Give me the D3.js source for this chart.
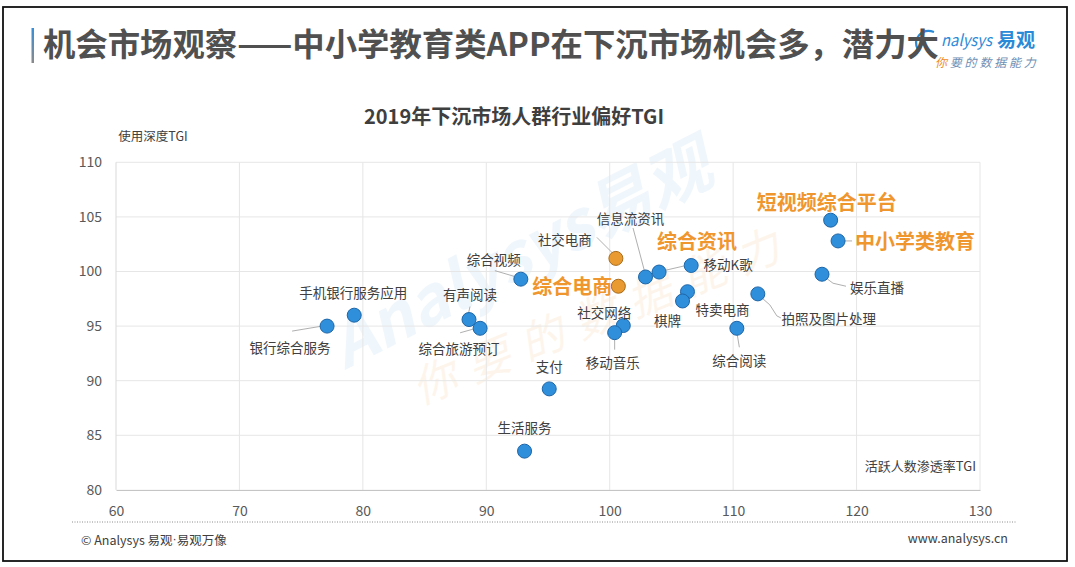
<!DOCTYPE html>
<html><head><meta charset="utf-8">
<script src="https://cdn.jsdelivr.net/npm/d3@7/dist/d3.min.js"></script>
<style>
body{margin:0;background:#fff}
svg{display:block}
text{font-family:"Noto Sans CJK SC","Microsoft YaHei",sans-serif}
</style>
</head><body>
<svg id="c" width="1075" height="567"></svg>
<script>
// ---------- data ----------
const names = ["银行综合服务","手机银行服务应用","有声阅读","综合旅游预订","综合视频","社交电商","综合电商","信息流资讯","综合资讯","移动K歌","特卖电商","棋牌","社交网络","移动音乐","拍照及图片处理","综合阅读","娱乐直播","短视频综合平台","中小学类教育","支付","生活服务"];
const penetrationTGI = [77.1,79.3,88.6,89.5,92.8,100.5,100.7,102.9,104.0,106.6,106.3,105.9,101.1,100.4,112.0,110.3,117.2,117.9,118.5,95.1,93.1];
const depthTGI      = [95.0,96.0,95.6,94.8,99.3,101.2,98.65,99.5,99.95,100.55,98.15,97.3,95.05,94.4,97.95,94.8,99.75,104.7,102.8,89.25,83.55];
const orangePoints  = ["社交电商","综合电商"];
const orangeLabels  = ["综合电商","综合资讯","短视频综合平台","中小学类教育"];
const xTicks = [60,70,80,90,100,110,120,130];
const yTicks = [80,85,90,95,100,105,110];

const mainTitle  = "机会市场观察——中小学教育类APP在下沉市场机会多，潜力大";
const chartTitle = "2019年下沉市场人群行业偏好TGI";
const yAxisTitle = "使用深度TGI";
const xAxisTitle = "活跃人数渗透率TGI";
const footLeft   = "© Analysys 易观·易观万像";
const footRight  = "www.analysys.cn";

// ---------- label layout (pixel offsets relative to each point) ----------
const labelLayout = {
  "银行综合服务":   {dx:-37, dy:21, leader:[[-5,0],[-35,5]]},
  "手机银行服务应用": {dx:-1, dy:-23},
  "有声阅读":       {dx:1, dy:-26, leader:[[1,-13],[-1,-4]]},
  "综合旅游预订":   {dx:-21, dy:20, leader:[[-20,4.5],[-4,0]]},
  "综合视频":       {dx:-27, dy:-20, leader:[[-26,-8.5],[-4,-2]]},
  "社交电商":       {dx:-51, dy:-19, leader:[[-19,-21],[-3,-5]]},
  "综合电商":       {dx:-46, dy:-1},
  "信息流资讯":     {dx:-15, dy:-59, leader:[[-12.5,-49],[-0.5,-4]]},
  "综合资讯":       {dx:38, dy:-32, leader:[[3,-1],[29,-7]]},
  "移动K歌":        {dx:37, dy:-1},
  "特卖电商":       {dx:35, dy:17},
  "棋牌":           {dx:-15, dy:19},
  "社交网络":       {dx:-19, dy:-14},
  "移动音乐":       {dx:-2, dy:29, leader:[[0,4],[0,17]]},
  "拍照及图片处理": {dx:71, dy:24, leader:[[4,4],[12,11],[19,22],[23,24]]},
  "综合阅读":       {dx:2.5, dy:32, leader:[[0,4],[2.5,19]]},
  "娱乐直播":       {dx:55, dy:13, leader:[[3,3],[11,9],[24,12]]},
  "短视频综合平台": {dx:-4, dy:-19},
  "中小学类教育":   {dx:77, dy:0, leader:[[4,0],[14,0]]},
  "支付":           {dx:0, dy:-23},
  "生活服务":       {dx:0, dy:-24}
};

const svg = d3.select("#c");
const W = 1075, H = 567;
const plot = {left:116, right:980, top:162.3, bottom:489.9};

const x = d3.scaleLinear().domain([60,130]).range([plot.left, plot.right]);
const y = d3.scaleLinear().domain([80,110]).range([plot.bottom, plot.top]);

// background
svg.append("rect").attr("width",W).attr("height",H).attr("fill","#fff");

// watermark
const wm = svg.append("g");
wm.append("text").attr("transform","translate(345,370) rotate(-27)")
  .attr("font-size",66).attr("font-style","italic").attr("fill","#2f8fdc").attr("font-weight","bold")
  .attr("opacity",0.07).text("Analysys易观");
wm.append("text").attr("transform","translate(420,405) rotate(-22)")
  .attr("font-size",44).attr("font-style","italic").attr("fill","#f0962e")
  .attr("opacity",0.09).attr("letter-spacing",14).text("你要的数据能力");

// outer border
svg.append("rect").attr("x",3).attr("y",7).attr("width",1064).attr("height",554)
  .attr("fill","none").attr("stroke","#111").attr("stroke-width",1.8);

// logo (swoosh "A" mostly hidden behind the title's last glyph, as in the reference)
const logo = svg.append("g");
logo.append("path").attr("d","M918,50 C912,38 922,28 934,32")
  .attr("fill","none").attr("stroke","#2b8ad8").attr("stroke-width",2.2);
logo.append("text").attr("x",941).attr("y",46).attr("font-size",16).attr("fill","#2b8ad8")
  .attr("font-family","'Open Sans',sans-serif").attr("font-style","italic")
  .attr("textLength",51).attr("lengthAdjust","spacingAndGlyphs")
  .text("nalysys");
logo.append("text").attr("x",997).attr("y",46.5).attr("font-size",19).attr("font-weight","bold").attr("fill","#2b8ad8").text("易观");
const slog = logo.append("text").attr("x",935).attr("y",66.5).attr("font-size",12).attr("font-style","italic").attr("letter-spacing",2.8);
slog.append("tspan").attr("fill","#f08a24").text("你");
slog.append("tspan").attr("fill","#6e8fb5").text("要的数据能力");

// title bar
const grad = svg.append("defs").append("linearGradient").attr("id","bar").attr("x1",0).attr("x2",0).attr("y1",0).attr("y2",1);
grad.append("stop").attr("offset","0%").attr("stop-color","#3a8fd8");
grad.append("stop").attr("offset","100%").attr("stop-color","#8a8a8a");
svg.append("rect").attr("x",31.5).attr("y",28).attr("width",2.5).attr("height",35).attr("fill","url(#bar)");

// main title
svg.append("text").attr("x",43).attr("y",56).attr("font-size",32).attr("font-weight","bold")
  .attr("fill","#505050").attr("textLength",896).attr("lengthAdjust","spacingAndGlyphs").text(mainTitle);

// chart title
svg.append("text").attr("x",514).attr("y",124).attr("text-anchor","middle").attr("font-size",20)
  .attr("font-weight","bold").attr("fill","#3f3f3f").text(chartTitle);

// axis titles
svg.append("text").attr("x",153).attr("y",135).attr("text-anchor","middle").attr("dominant-baseline","central")
  .attr("font-size",12.5).attr("fill","#404040").text(yAxisTitle);
svg.append("text").attr("x",976).attr("y",465).attr("text-anchor","end").attr("dominant-baseline","central")
  .attr("font-size",13).attr("fill","#404040").text(xAxisTitle);

// grid
const g = svg.append("g");
g.selectAll("line.h").data(yTicks.filter(d=>d>80)).join("line").attr("class","h")
  .attr("x1",plot.left).attr("x2",plot.right).attr("y1",d=>y(d)).attr("y2",d=>y(d))
  .attr("stroke","#e6e6e6").attr("stroke-width",1);
g.selectAll("line.v").data(xTicks.filter(d=>d>60)).join("line").attr("class","v")
  .attr("y1",plot.top).attr("y2",plot.bottom).attr("x1",d=>x(d)).attr("x2",d=>x(d))
  .attr("stroke","#e6e6e6").attr("stroke-width",1);
g.append("line").attr("x1",plot.left).attr("x2",plot.left).attr("y1",plot.top).attr("y2",plot.bottom)
  .attr("stroke","#d9d9d9");

// axes via d3
const xAxis = d3.axisBottom(x).tickValues(xTicks).tickSize(0).tickPadding(14);
const yAxis = d3.axisLeft(y).tickValues(yTicks).tickSize(0).tickPadding(14);
const gx = svg.append("g").attr("transform",`translate(0,${plot.bottom})`).call(xAxis);
gx.select(".domain").attr("stroke","#bfbfbf");
gx.selectAll("text").attr("font-size",14).attr("fill","#595959")
  .attr("font-family","'Noto Sans CJK SC',sans-serif").attr("dy","0.9em");
const gy = svg.append("g").attr("transform",`translate(${plot.left},0)`).call(yAxis);
gy.select(".domain").remove();
gy.selectAll("text").attr("font-size",14).attr("fill","#595959")
  .attr("font-family","'Noto Sans CJK SC',sans-serif");

// data
const data = names.map((n,i)=>({name:n, px:penetrationTGI[i], py:depthTGI[i]}));

// leaders
const lineGen = d3.line();
svg.append("g").selectAll("path").data(data.filter(d=>labelLayout[d.name].leader)).join("path")
  .attr("d",d=>lineGen(labelLayout[d.name].leader.map(p=>[x(d.px)+p[0], y(d.py)+p[1]])))
  .attr("fill","none").attr("stroke","#a6a6a6").attr("stroke-width",0.9);

// points
svg.append("g").selectAll("circle").data(data).join("circle")
  .attr("cx",d=>x(d.px)).attr("cy",d=>y(d.py)).attr("r",7)
  .attr("fill",d=>orangePoints.includes(d.name)?"#e99a30":"#2f8fdb")
  .attr("stroke",d=>orangePoints.includes(d.name)?"#a86c1c":"#1e66a8")
  .attr("stroke-width",1);

// labels
svg.append("g").selectAll("text").data(data).join("text")
  .attr("x",d=>x(d.px)+labelLayout[d.name].dx)
  .attr("y",d=>y(d.py)+labelLayout[d.name].dy)
  .attr("text-anchor","middle").attr("dominant-baseline","central")
  .attr("font-size",d=>orangeLabels.includes(d.name)?20:13.5)
  .attr("font-weight",d=>orangeLabels.includes(d.name)?"bold":"normal")
  .attr("fill",d=>orangeLabels.includes(d.name)?"#f0962e":"#404040")
  .text(d=>d.name);

// footer
svg.append("line").attr("x1",72).attr("x2",1017).attr("y1",522).attr("y2",522)
  .attr("stroke","#8c8c8c").attr("stroke-width",1).attr("stroke-dasharray","1,1.5");
const fl = svg.append("text").attr("x",81).attr("y",539).attr("dominant-baseline","central")
  .attr("font-size",12.5).attr("fill","#404040");
fl.append("tspan").text("© Analysys 易观");
fl.append("tspan").attr("font-family","'Liberation Sans',sans-serif").text("·");
fl.append("tspan").text("易观万像");
svg.append("text").attr("x",1008).attr("y",537).attr("dominant-baseline","central").attr("text-anchor","end")
  .attr("font-size",12.5).attr("fill","#404040").text(footRight);
</script>
</body></html>
